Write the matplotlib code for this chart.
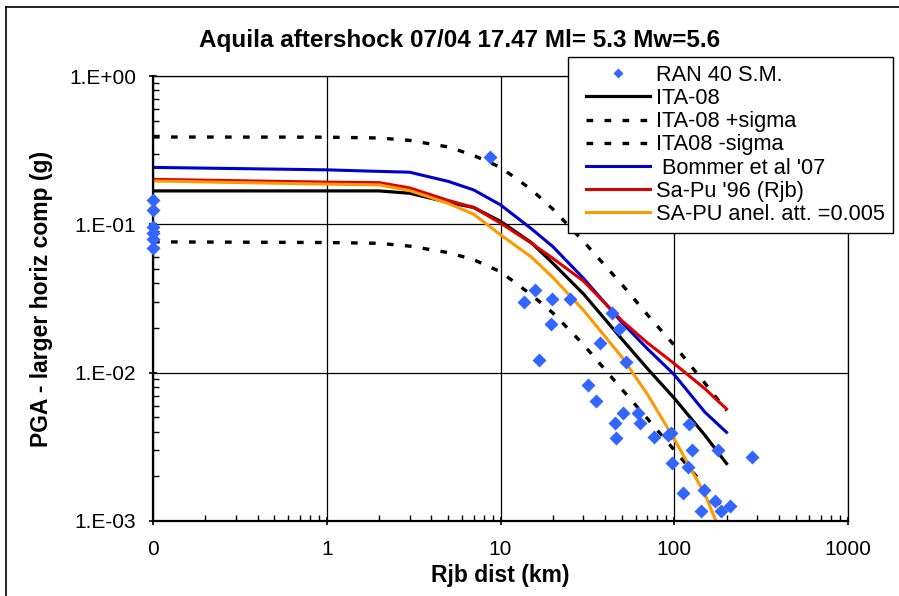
import matplotlib
matplotlib.use("Agg")
import matplotlib.pyplot as plt
import matplotlib.ticker as mticker
from matplotlib.lines import Line2D
from matplotlib.legend_handler import HandlerLine2D
import numpy as np

plt.rcParams['font.family'] = ['Liberation Sans', 'DejaVu Sans']

# distances (km); 0.1 stands for the "0" column of the sheet
dist = [0.1, 1, 2, 3, 5, 7, 10, 15, 20, 30, 50, 70, 100, 150, 200]

ita08 = [0.168, 0.168, 0.168, 0.162, 0.1406, 0.130, 0.1048, 0.0755, 0.0547,
         0.0340, 0.01682, 0.01067, 0.00673, 0.00379, 0.00244]
ita08_plus = [0.388, 0.387, 0.382, 0.368, 0.3325, 0.2916, 0.2424, 0.172, 0.1268,
              0.0768, 0.0393, 0.0246, 0.01531, 0.0085, 0.00555]
ita08_minus = [0.0762, 0.0754, 0.0745, 0.0713, 0.0645, 0.0578, 0.0479, 0.0336,
               0.0253, 0.01549, 0.00772, 0.0049, 0.00301, 0.00171, 0.00114]
bommer = [0.242, 0.233, 0.2275, 0.2246, 0.1948, 0.1707, 0.1353, 0.0937, 0.0708,
          0.0433, 0.0218, 0.01451, 0.00969, 0.00542, 0.00396]
sapu = [0.201, 0.1925, 0.191, 0.176, 0.145, 0.130, 0.1019, 0.0749, 0.0590,
        0.0415, 0.0224, 0.0159, 0.0115, 0.0078, 0.00569]
sapu_anel = [0.196, 0.1866, 0.1845, 0.169, 0.1384, 0.1172, 0.0850, 0.0604, 0.0439,
             0.0264, 0.01272, 0.00716, 0.00357, 0.00152, 0.00067]

# RAN stations
obs_dist = [0.1, 0.1, 0.1, 0.1, 0.1, 0.1,
            8.65, 15.8, 13.7, 19.9, 25.0, 19.4, 16.6, 37.6, 43.6, 48.3, 52.5,
            32.0, 35.6, 50.5, 61.9, 45.6, 63.5, 46.4, 76.4, 92.0, 96.1, 120.9,
            97.7, 125.7, 120.3, 178.3, 281.8, 112.7, 147.4, 171.4, 142.2, 186.3, 209.8]
obs_pga = [0.146, 0.125, 0.096, 0.088, 0.080, 0.069,
           0.286, 0.0362, 0.0299, 0.0313, 0.0313, 0.0214, 0.01225, 0.01585, 0.0252,
           0.0198, 0.01186, 0.0083, 0.00648, 0.00535, 0.00535, 0.0046, 0.0046,
           0.00361, 0.00371, 0.0038, 0.00393, 0.00454, 0.00247, 0.00299, 0.00233,
           0.00299, 0.0027, 0.00155, 0.00162, 0.00137, 0.00116, 0.00116, 0.00127]

W, H = 899, 596
fig = plt.figure(figsize=(W / 100, H / 100), dpi=100)
ax = fig.add_axes([153 / W, (H - 521) / H, (848 - 153) / W, (521 - 76) / H])

ax.set_xscale('log')
ax.set_yscale('log')
ax.set_xlim(0.1, 1000)
ax.set_ylim(0.001, 1)

dash = (0, (2.0, 3.4))
ax.plot(obs_dist, obs_pga, 'D', color='#3366FF', ms=7, mec='none', zorder=5,
        clip_on=False, label='RAN 40 S.M.')
ax.plot(dist, ita08, color='black', lw=2.3, label='ITA-08')
ax.plot(dist, ita08_plus, color='black', lw=2.4, linestyle=dash, label='ITA-08 +sigma')
ax.plot(dist, ita08_minus, color='black', lw=2.4, linestyle=dash, label='ITA08 -sigma')
ax.plot(dist, bommer, color='#0000CC', lw=2.2, label=" Bommer et al '07")
ax.plot(dist, sapu, color='#DD0000', lw=2.2, label="Sa-Pu '96 (Rjb)")
ax.plot(dist, sapu_anel, color='#FF9900', lw=2.2, label='SA-PU anel. att. =0.005')

ax.grid(True, which='major', color='black', lw=0.9)
ax.set_axisbelow(True)
for s in ax.spines.values():
    s.set_color('black')
    s.set_linewidth(0.9)
ax.spines['left'].set_linewidth(1.6)
ax.spines['bottom'].set_linewidth(1.6)

ax.xaxis.set_major_locator(mticker.FixedLocator([0.1, 1, 10, 100, 1000]))
ax.xaxis.set_major_formatter(mticker.FuncFormatter(lambda v, p: '%d' % round(v)))
ax.xaxis.set_minor_locator(mticker.LogLocator(base=10, subs=np.arange(2, 10)))
ax.xaxis.set_minor_formatter(mticker.NullFormatter())

ax.yaxis.set_major_locator(mticker.FixedLocator([0.001, 0.01, 0.1, 1]))
ax.yaxis.set_major_formatter(
    mticker.FuncFormatter(lambda v, p: '1.E%+03d' % round(np.log10(v))))
ax.yaxis.set_minor_locator(mticker.LogLocator(base=10, subs=np.arange(2, 10)))
ax.yaxis.set_minor_formatter(mticker.NullFormatter())

ax.tick_params(which='major', direction='inout', length=6, width=1.2,
               labelsize=15, color='black')
ax.tick_params(which='minor', direction='in', length=4, width=1, color='black')
ax.tick_params(axis='x', which='major', pad=11)
ax.tick_params(axis='y', which='major', pad=9)
ax.tick_params(top=False, right=False, which='both')

fig.text(460 / W, 1 - 40 / H, 'Aquila aftershock 07/04 17.47 Ml= 5.3 Mw=5.6',
         fontsize=17.5, fontweight='bold', ha='center', va='center')
ax.set_xlabel('Rjb dist (km)', fontsize=16.5, fontweight='bold', labelpad=3)
ax.set_ylabel('PGA - larger horiz comp (g)', fontsize=16.5, fontweight='bold',
              labelpad=12)

leg = ax.legend(loc='upper left', bbox_to_anchor=(568 / W, 1 - 57 / H),
                bbox_transform=fig.transFigure, borderaxespad=0, fontsize=15.7,
                frameon=True, fancybox=False, framealpha=1, edgecolor='black',
                handlelength=3.4, handletextpad=0.28, labelspacing=0.1,
                borderpad=0.36, markerscale=0.75,
                handler_map={Line2D: HandlerLine2D(xpad=0.46)})
leg.get_frame().set_linewidth(1.0)
leg.set_zorder(10)

# outer chart border (left and top edges visible)
fig.add_artist(Line2D([6 / W, 6 / W], [0, 1 - 7 / H], transform=fig.transFigure,
                      color='black', lw=1.2))
fig.add_artist(Line2D([6 / W, 1], [1 - 7 / H, 1 - 7 / H], transform=fig.transFigure,
                      color='black', lw=1.2))

fig.savefig('out.png', dpi=100)
